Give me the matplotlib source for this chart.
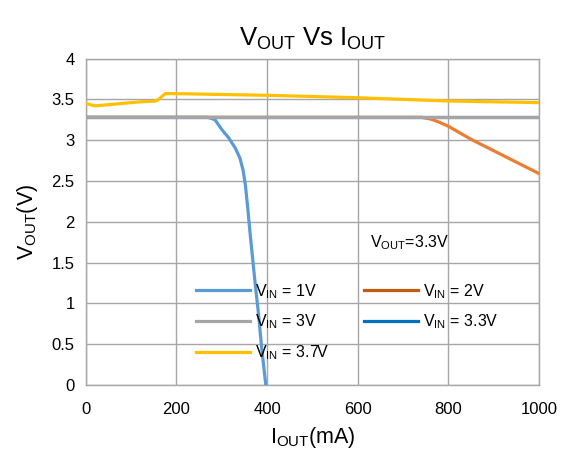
import matplotlib
matplotlib.use("Agg")
import matplotlib.pyplot as plt
from matplotlib.lines import Line2D

plt.rcParams['font.family'] = ['Liberation Sans', 'DejaVu Sans']
plt.rcParams['mathtext.fontset'] = 'custom'
plt.rcParams['mathtext.rm'] = 'Liberation Sans'
plt.rcParams['mathtext.it'] = 'Liberation Sans'

# Data (IOUT in mA, VOUT in V)
x_1v = [0, 100, 200, 270, 285, 300, 315, 330, 340, 347, 352, 357, 362, 368, 374, 380, 388, 397]
y_1v = [3.28, 3.28, 3.28, 3.28, 3.25, 3.13, 3.03, 2.90, 2.78, 2.63, 2.45, 2.18, 1.88, 1.55, 1.22, 0.92, 0.45, 0.0]
x_2v = [0, 200, 400, 600, 700, 740, 760, 780, 800, 825, 850, 875, 900, 950, 1000]
y_2v = [3.28, 3.28, 3.28, 3.28, 3.28, 3.28, 3.26, 3.22, 3.17, 3.09, 3.01, 2.94, 2.87, 2.73, 2.59]
x_3v = [0, 1000]
y_3v = [3.28, 3.28]
x_33v = [0, 1000]
y_33v = [3.28, 3.28]
x_37v = [0, 20, 40, 80, 120, 155, 165, 175, 200, 400, 600, 800, 1000]
y_37v = [3.45, 3.42, 3.43, 3.45, 3.47, 3.48, 3.52, 3.57, 3.57, 3.55, 3.52, 3.48, 3.46]

labels = ['1V', '2V', '3V', '3.3V', '3.7V']
line_colors = ['#5B9BD5', '#ED7D31', '#A5A5A5', '#0070C0', '#FFC000']
legend_colors = ['#5B9BD5', '#C55A11', '#A5A5A5', '#0070C0', '#FFC000']
xticks = [0, 200, 400, 600, 800, 1000]
yticks = [0, 0.5, 1, 1.5, 2, 2.5, 3, 3.5, 4]
ytick_labels = ['0', '0.5', '1', '1.5', '2', '2.5', '3', '3.5', '4']

fig = plt.figure(figsize=(5.61, 4.54), dpi=100)
ax = fig.add_axes([0.153, 0.152, 0.808, 0.719])

lw = 2.3
ax.plot(x_33v, y_33v, color=line_colors[3], lw=lw, zorder=2)
ax.plot(x_1v, y_1v, color=line_colors[0], lw=lw, zorder=3)
ax.plot(x_2v, y_2v, color=line_colors[1], lw=lw, zorder=3)
ax.plot(x_3v, y_3v, color=line_colors[2], lw=lw, zorder=4)
ax.plot(x_37v, y_37v, color=line_colors[4], lw=lw, zorder=5)

ax.set_xlim(0, 1000)
ax.set_ylim(0, 4)
ax.set_xticks(xticks)
ax.set_yticks(yticks)
ax.set_yticklabels(ytick_labels)
ax.tick_params(length=0, labelsize=12)
ax.tick_params(axis='x', pad=12)
ax.tick_params(axis='y', pad=8)
ax.grid(True, color='#A6A6A6', lw=1.0)
ax.set_axisbelow(True)
for s in ax.spines.values():
    s.set_color('#A6A6A6')
    s.set_linewidth(1.0)

ax.set_title(r'$\mathregular{V_{OUT}\ Vs\ I_{OUT}}$', fontsize=18.5, pad=9)
ax.set_xlabel(r'$\mathregular{I_{OUT}(mA)}$', fontsize=15.5, labelpad=6)
ax.set_ylabel(r'$\mathregular{V_{OUT}(V)}$', fontsize=15.5, labelpad=8)

ax.text(627, 1.74, r'$\mathregular{V_{OUT}}$=3.3V', fontsize=11.5, va='center', ha='left')

order = [0, 2, 4, 1, 3]
handles = [Line2D([], [], color=legend_colors[i], lw=lw) for i in order]
texts = [r'$\mathregular{V_{IN}}$ = ' + labels[i] for i in order]
ax.legend(handles, texts, ncol=2, frameon=False, fontsize=11.5,
          loc='upper left', bbox_to_anchor=(196 / 561, 1 - 282 / 454),
          bbox_transform=fig.transFigure, borderpad=0, borderaxespad=0,
          handlelength=3.4, handletextpad=0.3, columnspacing=2.2,
          labelspacing=0.75)

fig.savefig('out.png', dpi=100)
